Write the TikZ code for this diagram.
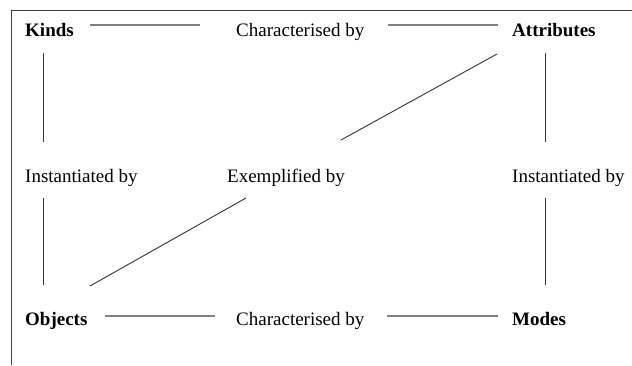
\documentclass[tikz,border=0pt]{standalone}
\usepackage{fontspec}
\setmainfont{Liberation Serif}
\usetikzlibrary{calc}
\begin{document}
\begin{tikzpicture}[x=1pt,y=-1pt,
  lbl/.style={anchor=base west,inner sep=0pt,font=\fontsize{19}{22}\selectfont},
  blbl/.style={lbl,font=\fontsize{19}{22}\selectfont\bfseries},
  hl/.style={draw=black!50,line width=2pt},
  ln/.style={draw=black!80,line width=0.9pt},
  frame/.style={draw=black!75,line width=1pt}]
\useasboundingbox (0,0) rectangle (632,365);
\draw[frame] (11,365) -- (11,10) -- (632,10);
\node[blbl] (kinds) at (25,36) {Kinds};
\node[lbl] (char1) at (236,36) {Characterised by};
\node[blbl] (attr) at (512,36) {Attributes};
\node[lbl] (inst1) at (25,182) {Instantiated by};
\node[lbl] (exem) at (227,182) {Exemplified by};
\node[lbl] (inst2) at (512,182) {Instantiated by};
\node[blbl] (obj) at (25,325) {Objects};
\node[lbl] (char2) at (236,325) {Characterised by};
\node[blbl] (modes) at (512,325) {Modes};
% horizontal connectors
\draw[hl] ($(kinds.base west)+(65,-11)$) -- ($(char1.base west)+(-36,-11)$);
\draw[hl] ($(char1.base west)+(152,-11)$) -- ($(attr.base west)+(-14,-11)$);
\draw[hl] ($(obj.base west)+(80,-9)$) -- ($(char2.base west)+(-21,-9)$);
\draw[hl] ($(char2.base west)+(151,-9)$) -- ($(modes.base west)+(-14,-9)$);
% vertical connectors
\draw[ln] ($(kinds.base west)+(18,17)$) -- ($(inst1.base west)+(18,-40)$);
\draw[ln] ($(inst1.base west)+(18,16)$) -- ($(obj.base west)+(18,-40)$);
\draw[ln] ($(attr.base west)+(33,17)$) -- ($(inst2.base west)+(33,-40)$);
\draw[ln] ($(inst2.base west)+(33,16)$) -- ($(modes.base west)+(33,-40)$);
% diagonals
\draw[ln] ($(attr.base west)+(-15,18)$) -- ($(exem.base west)+(114,-42)$);
\draw[ln] ($(exem.base west)+(19,16)$) -- ($(obj.base west)+(65,-39)$);
\end{tikzpicture}
\end{document}
